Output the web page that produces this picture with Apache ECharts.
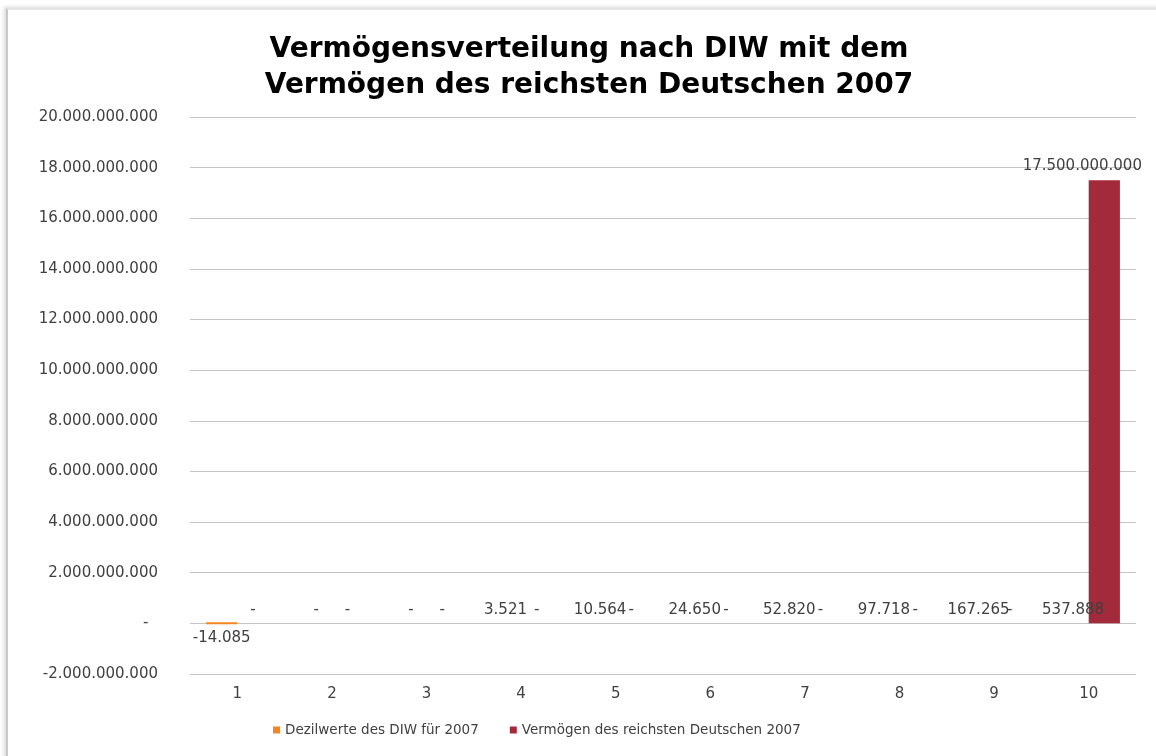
<!DOCTYPE html>
<html>
<head>
<meta charset="utf-8">
<script src="https://cdn.jsdelivr.net/npm/echarts@6/dist/echarts.min.js"></script>
<style>
    html, body { margin: 0; padding: 0; background: #fff; }
    #frame {
        position: absolute; left: 6px; top: 8px; width: 1170px; height: 760px;
        border-left: 2px solid #c8c8c8; border-top: 2px solid #e4e4e4;
        box-shadow: -2px -1px 4px rgba(0,0,0,0.15);
    }
    #chart { position: absolute; left: 0; top: 0; width: 1156px; height: 756px; }
</style>
</head>
<body>
<div id="frame"></div>
<div id="chart"></div>
<script>
    const categories = ['1', '2', '3', '4', '5', '6', '7', '8', '9', '10']
    const diw_values = [-14085, 0, 0, 3521, 10564, 24650, 52820, 97718, 167265, 537888]
    const richest_values = [0, 0, 0, 0, 0, 0, 0, 0, 0, 17500000000]
    const series_names = ['Dezilwerte des DIW für 2007', 'Vermögen des reichsten Deutschen 2007']
    const title_lines = ['Vermögensverteilung nach DIW mit dem', 'Vermögen des reichsten Deutschen 2007']

    const ORANGE = '#F5861F'
    const RED = '#A32A3B'
    const TEXT = '#404040'

    // german thousands, zero shown as "-" like excel accounting format
    const fmt = (v) => {
        if (v === 0) return '-'
        let s = Math.abs(v).toString().replace(/\B(?=(\d{3})+(?!\d))/g, '.')
        return (v < 0 ? '-' : '') + s
    }

    const makeData = (values, color) => values.map(v => {
        if (v < 0) {
            return {
                value: v,
                label: { position: 'bottom' },
                itemStyle: { borderColor: color, borderWidth: 2 }
            }
        }
        return v
    })

    const chart = echarts.init(document.getElementById('chart'))
    const option = {
        backgroundColor: 'transparent',
        textStyle: { fontFamily: 'DejaVu Sans' },
        title: {
            text: title_lines.join('\n'),
            left: 584,
            textAlign: 'center',
            top: 27,
            textStyle: {
                fontFamily: 'DejaVu Sans',
                fontWeight: 'bold',
                fontSize: 28,
                lineHeight: 36,
                color: '#000'
            }
        },
        legend: {
            left: 268,
            top: 718,
            icon: 'rect',
            itemWidth: 7,
            itemHeight: 7,
            itemGap: 31,
            textStyle: { fontSize: 13.5, color: TEXT, fontFamily: 'DejaVu Sans' },
            data: series_names
        },
        grid: { left: 190, right: 20, top: 117, bottom: 82 },
        xAxis: {
            type: 'category',
            data: categories,
            axisLine: { show: false, onZero: false },
            axisTick: { show: false },
            axisLabel: { color: TEXT, fontSize: 15, margin: 13 }
        },
        yAxis: {
            type: 'value',
            min: -2000000000,
            max: 20000000000,
            interval: 2000000000,
            axisLine: { show: false },
            axisTick: { show: false },
            splitLine: { lineStyle: { color: '#c4c4c4', width: 1 } },
            axisLabel: {
                color: TEXT,
                fontSize: 15,
                margin: 32,
                formatter: (v) => v === 0 ? '-  ' : fmt(v)
            }
        },
        series: [
            {
                name: series_names[0],
                type: 'bar',
                barGap: '0%',
                barCategoryGap: '34%',
                itemStyle: { color: ORANGE },
                label: {
                    show: true,
                    position: 'top',
                    distance: 6,
                    color: TEXT,
                    fontSize: 15,
                    formatter: (p) => fmt(p.value)
                },
                data: makeData(diw_values, ORANGE)
            },
            {
                name: series_names[1],
                type: 'bar',
                itemStyle: { color: RED },
                label: {
                    show: true,
                    position: 'top',
                    distance: 6,
                    color: TEXT,
                    fontSize: 15,
                    formatter: (p) => fmt(p.value)
                },
                data: richest_values.map(v => v > 1e9 ? { value: v, label: { offset: [-22, -1] } } : v)
            }
        ]
    }
    chart.setOption(option)
</script>
</body>
</html>
